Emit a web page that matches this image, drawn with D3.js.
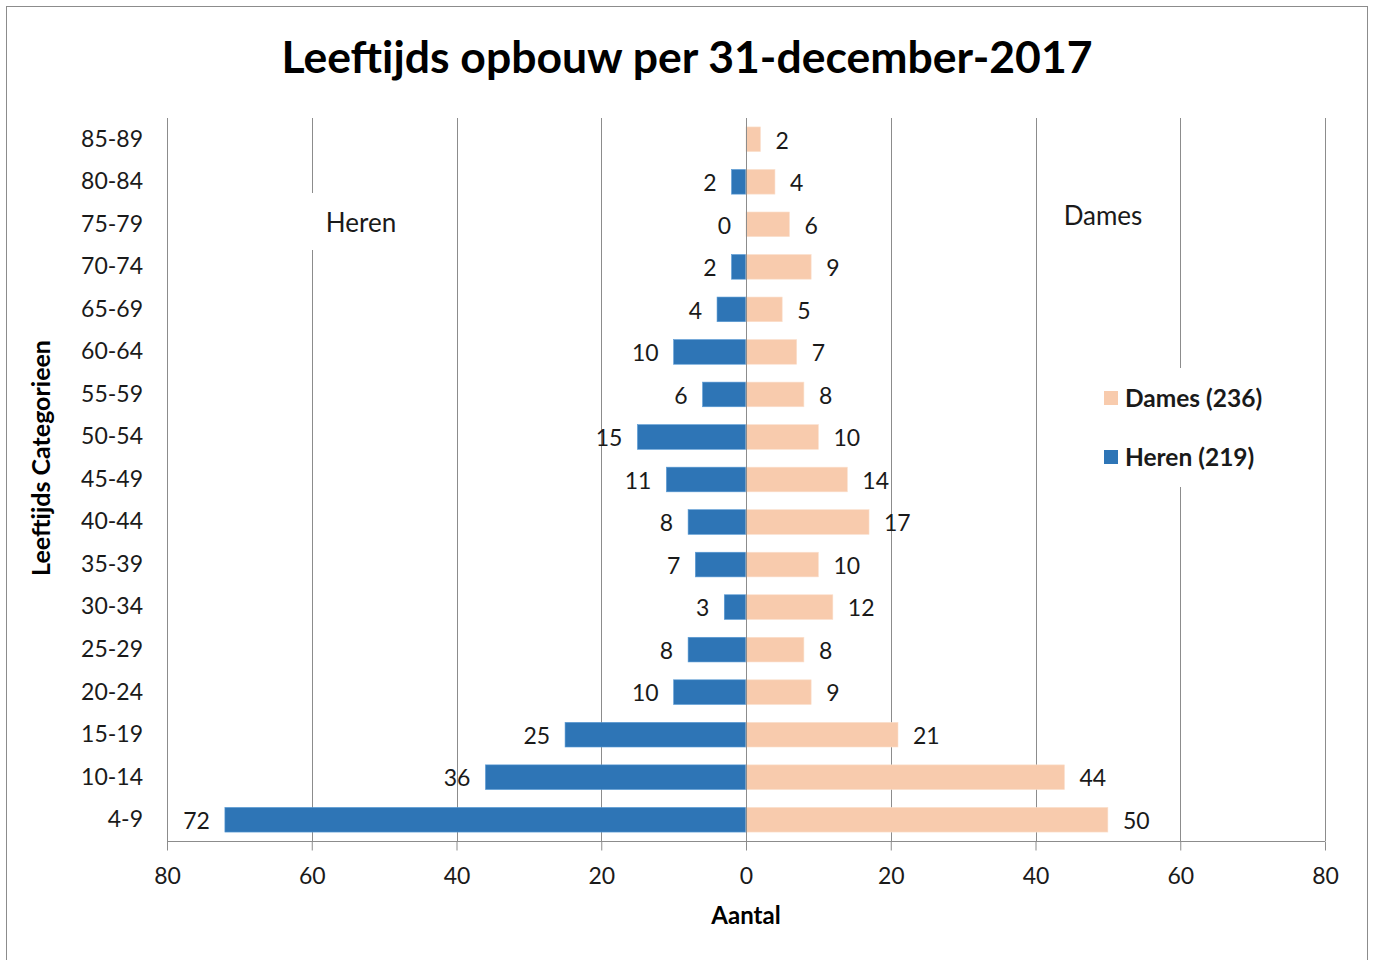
<!DOCTYPE html>
<html><head><meta charset="utf-8">
<script src="https://cdn.jsdelivr.net/npm/d3@7/dist/d3.min.js"></script>
<style>body{margin:0;background:#fff;} text{font-family:Lato,"Open Sans",sans-serif;}</style>
</head><body>
<svg id="c" width="1373" height="960"></svg>
<script>
const categories = ["85-89","80-84","75-79","70-74","65-69","60-64","55-59","50-54","45-49","40-44","35-39","30-34","25-29","20-24","15-19","10-14","4-9"];
const heren = [null,2,0,2,4,10,6,15,11,8,7,3,8,10,25,36,72];
const dames = [2,4,6,9,5,7,8,10,14,17,10,12,8,9,21,44,50];
const tickValues = [-80,-60,-40,-20,0,20,40,60,80];
const seriesNames = ["Dames (236)","Heren (219)"];
const colors = {dames:"#F8CBAD", heren:"#2E75B6"};

const svg = d3.select("#c");
svg.append("rect").attr("x",6.5).attr("y",6.5).attr("width",1361).attr("height",980).attr("fill","#fff").attr("stroke","#8c8c8c").attr("stroke-width",1);

const x = d3.scaleLinear().domain([-80,80]).range([167,1325]);
const y = d3.scaleBand().domain(categories).range([118,841]).paddingInner(0.42).paddingOuter(0.21);

// gridlines
svg.append("g").selectAll("line").data(tickValues.filter(d=>d!==0)).join("line")
  .attr("x1",d=>Math.round(x(d))+0.5).attr("x2",d=>Math.round(x(d))+0.5)
  .attr("y1",118).attr("y2",841).attr("stroke","#8c8c8c").attr("stroke-width",1);

// bars
svg.append("g").selectAll("rect").data(categories.map((c,i)=>({c,v:heren[i]})).filter(d=>d.v!=null)).join("rect")
  .attr("x",d=>x(-d.v)).attr("width",d=>x(0)-x(-d.v)).attr("y",d=>y(d.c)).attr("height",y.bandwidth())
  .attr("fill",colors.heren).attr("stroke","#5b9bd5").attr("stroke-width",0.6);
svg.append("g").selectAll("rect").data(categories.map((c,i)=>({c,v:dames[i]}))).join("rect")
  .attr("x",x(0)).attr("width",d=>x(d.v)-x(0)).attr("y",d=>y(d.c)).attr("height",y.bandwidth())
  .attr("fill",colors.dames).attr("stroke","#fbe0cd").attr("stroke-width",0.6);

// zero line
svg.append("line").attr("x1",Math.round(x(0))+0.5).attr("x2",Math.round(x(0))+0.5).attr("y1",118).attr("y2",850).attr("stroke","#8c8c8c");

// x axis
const xAxis = d3.axisBottom(x).tickValues(tickValues).tickFormat(d=>Math.abs(d)).tickSize(9).tickPadding(17);
const gx = svg.append("g").attr("transform","translate(0,841.5)").call(xAxis);
gx.select(".domain").attr("stroke","#8c8c8c").attr("d","M167,0H1325");
gx.selectAll(".tick line").attr("stroke","#8c8c8c");
gx.selectAll(".tick text").attr("font-size",23).attr("fill","#1a1a1a").style("font-family","Lato,'Open Sans',sans-serif");

// y axis labels
const yAxis = d3.axisLeft(y).tickSize(0).tickPadding(24);
const gy = svg.append("g").attr("transform","translate(167,0)").call(yAxis);
gy.select(".domain").remove();
gy.selectAll(".tick text").attr("font-size",23).attr("fill","#1a1a1a").style("font-family","Lato,'Open Sans',sans-serif");

// value labels
svg.append("g").selectAll("text").data(categories.map((c,i)=>({c,v:heren[i]})).filter(d=>d.v!=null)).join("text")
  .attr("x",d=>x(-d.v)-15).attr("y",d=>y(d.c)+y.bandwidth()/2+1).attr("dy","0.36em")
  .attr("text-anchor","end").attr("font-size",23).attr("fill","#1a1a1a").text(d=>d.v);
svg.append("g").selectAll("text").data(categories.map((c,i)=>({c,v:dames[i]}))).join("text")
  .attr("x",d=>x(d.v)+15).attr("y",d=>y(d.c)+y.bandwidth()/2+1).attr("dy","0.36em")
  .attr("text-anchor","start").attr("font-size",23).attr("fill","#1a1a1a").text(d=>d.v);

// Heren / Dames annotations
svg.append("rect").attr("x",300).attr("y",193).attr("width",120).attr("height",57).attr("fill","#fff");
svg.append("text").attr("x",361).attr("y",232).attr("text-anchor","middle").attr("font-size",26).attr("fill","#1a1a1a").text("Heren");
svg.append("text").attr("x",1103).attr("y",225).attr("text-anchor","middle").attr("font-size",26).attr("fill","#1a1a1a").text("Dames");

// legend
const lg = svg.append("g");
lg.append("rect").attr("x",1095).attr("y",368).attr("width",180).attr("height",119).attr("fill","#fff");
const legItems = [{name:seriesNames[0],color:colors.dames,y:398},{name:seriesNames[1],color:colors.heren,y:457}];
legItems.forEach(d=>{
  lg.append("rect").attr("x",1104).attr("y",d.y-7).attr("width",14).attr("height",14).attr("fill",d.color);
  lg.append("text").attr("x",1125).attr("y",d.y).attr("dy","0.36em").attr("font-size",24.5).attr("font-weight","bold").attr("fill","#1a1a1a").text(d.name);
});

// titles
svg.append("text").attr("x",687).attr("y",73).attr("text-anchor","middle").attr("font-size",44.5).attr("font-weight","bold").attr("fill","#000").text("Leeftijds opbouw per 31-december-2017");
svg.append("text").attr("x",746).attr("y",924).attr("text-anchor","middle").attr("font-size",24).attr("font-weight","bold").attr("fill","#000").text("Aantal");
svg.append("text").attr("transform","translate(50,458) rotate(-90)").attr("text-anchor","middle").attr("font-size",25).attr("font-weight","bold").attr("fill","#000").text("Leeftijds Categorieen");
</script>
</body></html>
